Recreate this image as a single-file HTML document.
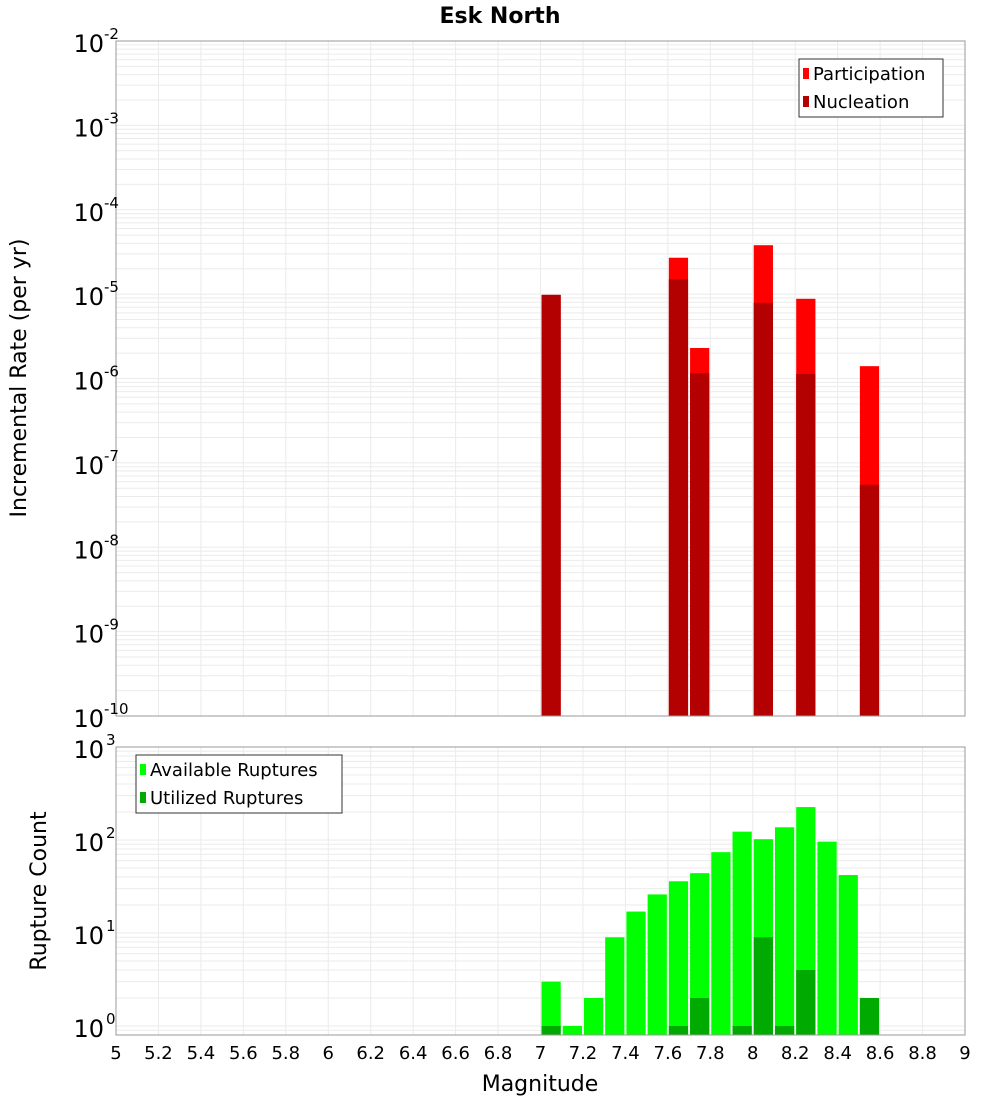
<!DOCTYPE html>
<html><head><meta charset="utf-8"><style>
body{margin:0;background:#fff;}
svg{display:block;font-family:"DejaVu Sans","Liberation Sans",sans-serif;}
</style></head><body>
<svg id="c" width="1000" height="1100" xmlns="http://www.w3.org/2000/svg">
<text x="500" y="23" text-anchor="middle" font-size="22" font-weight="bold">Esk North</text>
<text transform="translate(26,378) rotate(-90)" text-anchor="middle" font-size="22">Incremental Rate (per yr)</text>
<text transform="translate(46,891) rotate(-90)" text-anchor="middle" font-size="22">Rupture Count</text>
<text x="540" y="1091" text-anchor="middle" font-size="22">Magnitude</text>
<g id="g"></g>
</svg>
<script>
const mags = [7.05,7.15,7.25,7.35,7.45,7.55,7.65,7.75,7.85,7.95,8.05,8.15,8.25,8.35,8.45,8.55];
const partMags = [7.05,7.65,7.75,8.05,8.25,8.55];
const participation = [9.8e-6,2.7e-5,2.3e-6,3.8e-5,8.8e-6,1.4e-6];
const nucleation = [9.8e-6,1.5e-5,1.16e-6,7.9e-6,1.13e-6,5.5e-8];
const available = [3,1,2,9,17,26,36,44,74,123,102,137,226,96,42,2];
const utilized = [1,0,0,0,0,0,1,2,0,1,9,1,4,0,0,2];
const xTicks = [5,5.2,5.4,5.6,5.8,6,6.2,6.4,6.6,6.8,7,7.2,7.4,7.6,7.8,8,8.2,8.4,8.6,8.8,9];
const topExp = [-10,-9,-8,-7,-6,-5,-4,-3,-2];
const botExp = [0,1,2,3];

const NS="http://www.w3.org/2000/svg", g=document.getElementById('g');
function el(t,a,txt){const e=document.createElementNS(NS,t);for(const k in a)e.setAttribute(k,a[k]);if(txt!==undefined)e.textContent=txt;g.appendChild(e);return e;}
const L=116,R=965;
const x=m=>L+(m-5)/4*(R-L);
const T0=41,T1=716;
const yT=v=>T1-(Math.log10(v)+10)/8*(T1-T0);
const B0=747,B1=1035,Bd=93,B1v=1026;
const yB=v=>B1v-Math.log10(v)*Bd;

function grid(top,bot,yf,exps){
  for(const e of exps){for(let k=1;k<10;k++){const v=k*Math.pow(10,e);const yy=yf(v);if(yy<top-0.5||yy>bot+0.5)continue;
    const ln=el('line',{x1:L,x2:R,y1:yy,y2:yy,stroke:'#ebebeb','stroke-width':1});
    }}
  for(const t of xTicks){const ln=el('line',{x1:x(t),x2:x(t),y1:top,y2:bot,stroke:'#ebebeb','stroke-width':1});
    }
}
// top panel
grid(T0,T1,yT,[-10,-9,-8,-7,-6,-5,-4,-3]);
const bw=(x(0.1)-x(0))-2;
partMags.forEach((m,i)=>{
  const r=el('rect',{x:x(m)-bw/2,y:yT(participation[i]),width:bw,height:T1-yT(participation[i]),fill:'#ff0000'});
  
  const n=el('rect',{x:x(m)-bw/2,y:yT(nucleation[i]),width:bw,height:T1-yT(nucleation[i]),fill:'#b30000'});
  
});
let f=el('rect',{x:L,y:T0,width:R-L,height:T1-T0,fill:'none',stroke:'#999'});

topExp.forEach(e=>{const yy=yT(Math.pow(10,e));
  const t=el('text',{x:104,y:yy+11,'text-anchor':'end','font-size':24},'10');
  
  const s=el('text',{x:104,y:yy-2,'font-size':15},String(e));
  
});
// bottom panel
grid(B0,B1,yB,[-1,0,1,2]);
mags.forEach((m,i)=>{
  const a=el('rect',{x:x(m)-bw/2,y:yB(available[i]),width:bw,height:B1-yB(available[i]),fill:'#00ff00'});
  
  if(utilized[i]>0){const u=el('rect',{x:x(m)-bw/2,y:yB(utilized[i]),width:bw,height:B1-yB(utilized[i]),fill:'#00aa00'});
  }
});
f=el('rect',{x:L,y:B0,width:R-L,height:B1-B0,fill:'none',stroke:'#999'});

botExp.forEach(e=>{const yy=yB(Math.pow(10,e));
  const t=el('text',{x:104,y:yy+11,'text-anchor':'end','font-size':24},'10');
  
  const s=el('text',{x:106,y:yy-2,'font-size':15},String(e));
  
});
xTicks.forEach(t=>{const tx=el('text',{x:x(t),y:1059,'text-anchor':'middle','font-size':18},String(t));
  });
// legends
function legend(x0,y0,w,items){
  const b=el('rect',{x:x0,y:y0,width:w,height:58,fill:'#fff',stroke:'#333'});
  
  items.forEach((it,i)=>{const yy=y0+14+i*28;
    const s=el('rect',{x:x0+4,y:yy-5,width:6,height:11,fill:it[1]});
    
    const t=el('text',{x:x0+14,y:yy+7,'font-size':18},it[0]);
    });
}
legend(799,59,144,[['Participation','#ff0000'],['Nucleation','#b30000']]);
legend(136,755,206,[['Available Ruptures','#00ff00'],['Utilized Ruptures','#00aa00']]);
</script>
</body></html>
